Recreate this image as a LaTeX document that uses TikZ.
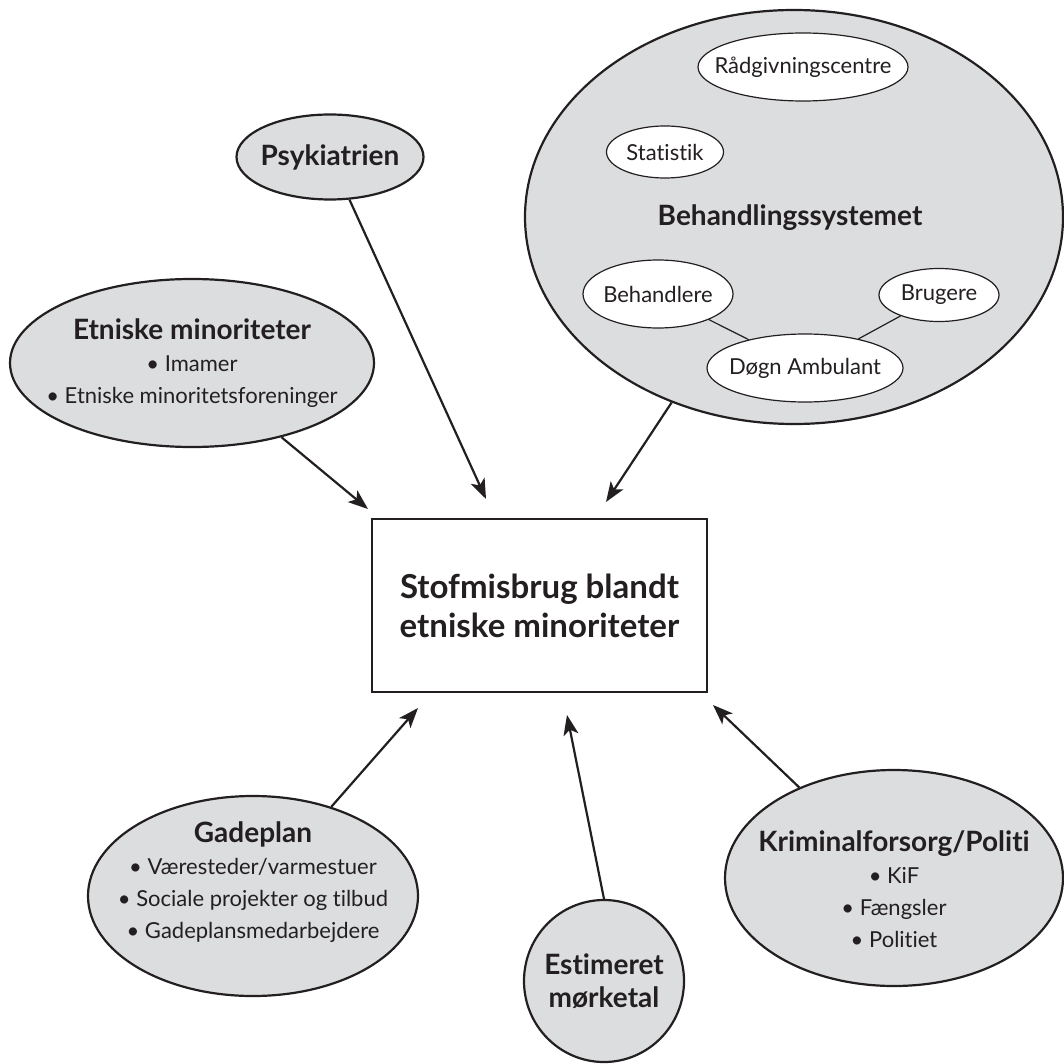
\documentclass[tikz,border=0pt]{standalone}
\usepackage{fontspec}
\setmainfont{Lato}[Ligatures=NoCommon]
\usepackage{tikz}
\usetikzlibrary{shapes.geometric,arrows.meta}
\definecolor{ink}{RGB}{35,31,32}
\definecolor{ellfill}{RGB}{220,221,223}
\newcommand\titlefont{\bfseries\fontsize{28}{33}\selectfont}
\newcommand\itemfont{\fontsize{22}{32}\selectfont}
\newcommand\mainfont{\bfseries\fontsize{33}{39}\selectfont}
\tikzset{x=1pt,y=-1pt,
 txt/.style={text=ink,font=\itemfont,align=center,inner sep=0pt},
 grey ell/.style={ellipse,draw=ink,fill=ellfill,line width=2.2pt,inner sep=0pt},
 white ell/.style={ellipse,draw=ink,fill=white,line width=1.2pt,inner sep=0pt},
 mainbox/.style={rectangle,draw=ink,line width=1.4pt,inner sep=0pt,align=center,
   text=ink,font=\mainfont,minimum width=335pt,minimum height=173pt},
 arr/.style={draw=ink,line width=2.2pt,-{Stealth[length=20pt,width=15pt,inset=5pt]}},
 link/.style={draw=ink,line width=1.2pt},
 }

\begin{document}
\begin{tikzpicture}
        \useasboundingbox (0,0) rectangle (1063,1064);
        \node[mainbox] (main) at (539.5,605.5) {Stofmisbrug blandt\\etniske minoriteter};

        \node[grey ell,minimum width=538pt,minimum height=414pt] (behsys) at (794,217) {};
        \node[white ell,minimum width=210pt,minimum height=68pt,
            label={[txt]center:Rådgivningscentre}] (raad) at (803,67) {};
        \node[white ell,minimum width=117pt,minimum height=52pt,
            label={[txt]center:Statistik}] (stat) at (665,152) {};
        \node[txt,font=\titlefont] (systxt) at (790,218) {Behandlingssystemet};
        \node[white ell,minimum width=150pt,minimum height=68pt,
            label={[txt]center:Behandlere}] (behl) at (658,294) {};
        \node[white ell,minimum width=120pt,minimum height=53pt,
            label={[txt]center:Brugere}] (brug) at (939,295) {};
        \node[white ell,minimum width=196pt,minimum height=68pt,
            label={[txt]center:Døgn Ambulant}] (dogn) at (805,368) {};
        \draw[link] (behl) -- (dogn);
        \draw[link] (brug) -- (dogn);

        \node[grey ell,minimum width=187pt,minimum height=85pt,
            label={[txt,font=\titlefont]center:Psykiatrien}] (psyk) at (330,157) {};
        \node[grey ell,minimum width=364pt,minimum height=168pt,
            label={[txt]center:{\titlefont Etniske minoriteter}\\• Imamer\\• Etniske minoritetsforeninger}]
            (etn) at (192,363) {};
        \node[grey ell,minimum width=330pt,minimum height=200pt,
            label={[txt,yshift=14pt]center:{\titlefont Gadeplan}\\• Væresteder/varmestuer\\• Sociale projekter og tilbud\\• Gadeplansmedarbejdere}]
            (gade) at (253,896) {};
        \node[grey ell,minimum width=160pt,minimum height=162pt,
            label={[txt,font=\titlefont]center:Estimeret\\mørketal}] (est) at (604,981) {};
        \node[grey ell,minimum width=338pt,minimum height=216pt,
            label={[txt,yshift=-11pt]center:{\titlefont Kriminalforsorg/Politi}\\• KiF\\• Fængsler\\• Politiet}]
            (krim) at (894,878) {};

        \coordinate (tEtn) at (368,509);
        \coordinate (tPsyk) at (486,499);
        \coordinate (tBeh) at (606,502);
        \coordinate (tGade) at (418,708);
        \coordinate (tEst) at (567,715);
        \coordinate (tKrim) at (713,705);
        \draw[arr] (etn) -- (tEtn);
        \draw[arr] (psyk) -- (tPsyk);
        \draw[arr] (behsys) -- (tBeh);
        \draw[arr] (gade) -- (tGade);
        \draw[arr] (est.north) -- (tEst);
        \draw[arr] (krim) -- (tKrim);
    \end{tikzpicture}
\end{document}
